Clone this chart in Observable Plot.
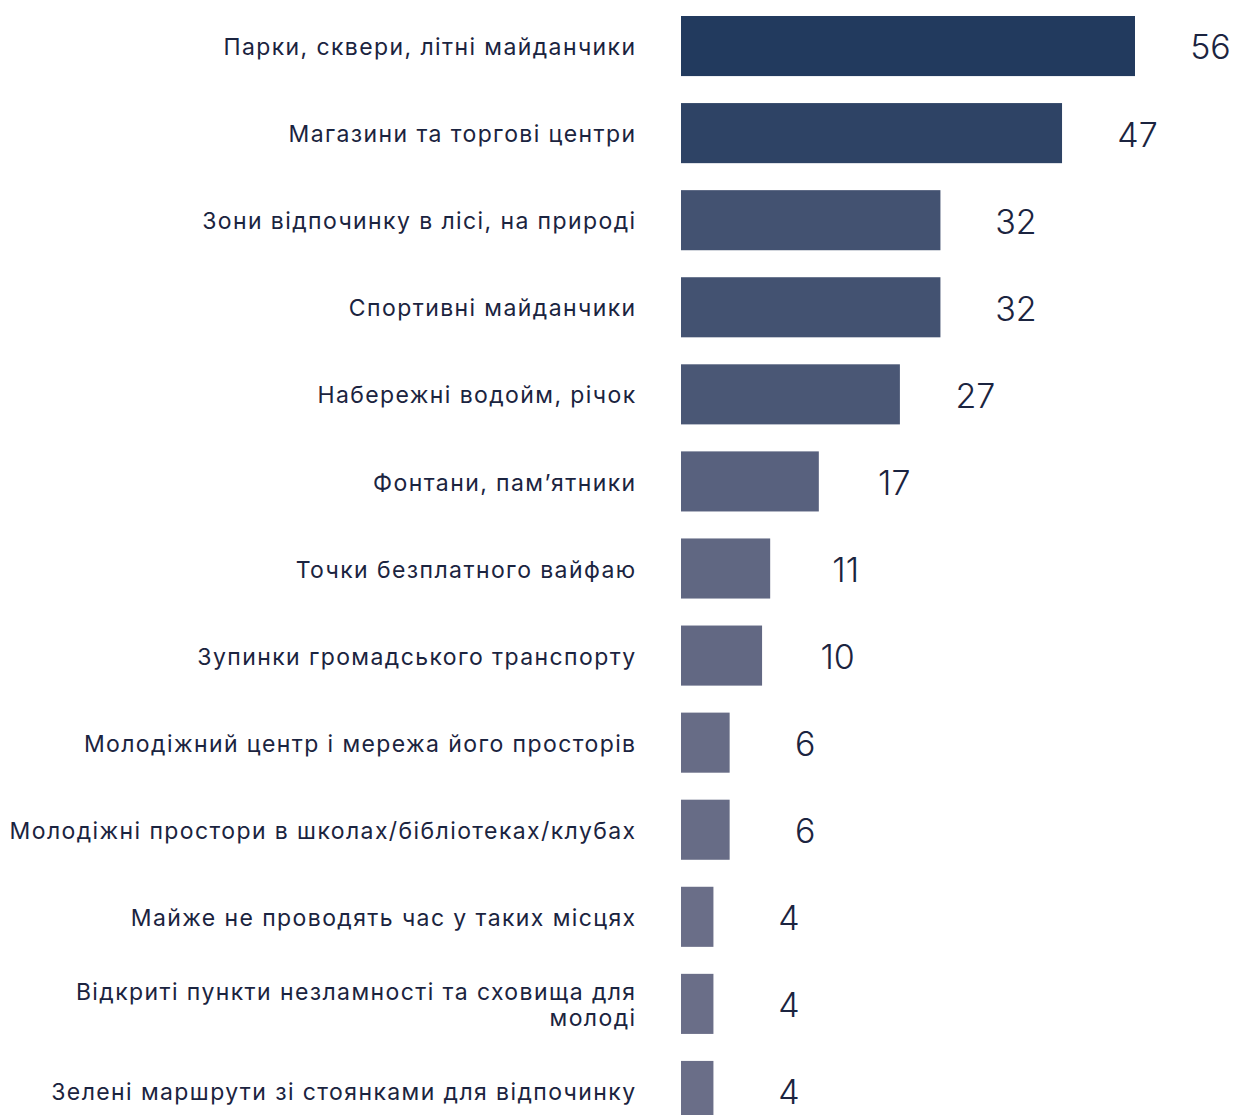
<!DOCTYPE html>
<html>
<head>
<meta charset="utf-8">
<script src="https://cdn.jsdelivr.net/npm/d3@7"></script>
<script src="https://cdn.jsdelivr.net/npm/@observablehq/plot@0.6"></script>
<style>
  html, body { margin: 0; padding: 0; background: #fff; }
  #chart svg { display: block; }
  .cat-labels text { letter-spacing: 1.4px; }
</style>
</head>
<body>
<div id="chart"></div>
<script>
const categories = [
  "Парки, сквери, літні майданчики",
  "Магазини та торгові центри",
  "Зони відпочинку в лісі, на природі",
  "Спортивні майданчики",
  "Набережні водойм, річок",
  "Фонтани, пам’ятники",
  "Точки безплатного вайфаю",
  "Зупинки громадського транспорту",
  "Молодіжний центр і мережа його просторів",
  "Молодіжні простори в школах/бібліотеках/клубах",
  "Майже не проводять час у таких місцях",
  "Відкриті пункти незламності та сховища для\nмолоді",
  "Зелені маршрути зі стоянками для відпочинку"
];
const values = [56, 47, 32, 32, 27, 17, 11, 10, 6, 6, 4, 4, 4];

const data = categories.map((c, i) => ({category: c, value: values[i]}));

const textColor = "#1b2440";
const font = "Inter, 'Noto Sans', sans-serif";

const chart = Plot.plot({
  width: 1233,
  height: 1115,
  marginLeft: 0,
  marginRight: 0,
  marginTop: 0,
  marginBottom: 0,
  style: {fontFamily: font, background: "#fff", overflow: "visible"},
  x: {domain: [0, 56], range: [681, 1135], axis: null},
  y: {domain: categories, range: [16, 1121], paddingInner: 0.31, paddingOuter: 0, round: false, axis: null},
  color: {type: "linear", domain: [4, 56], range: ["#6a6e88", "#223a5e"]},
  marks: [
    Plot.barX(data, {x: "value", y: "category", fill: "value"}),
    Plot.text(data, {
      x: () => 0, y: "category", text: "category",
      textAnchor: "end", dx: -45, fontSize: 23, fill: textColor,
      lineHeight: 1.17, className: "cat-labels"
    }),
    Plot.text(data, {
      x: "value", y: "category", text: d => String(d.value),
      textAnchor: "middle", dx: 75, dy: 2, fontSize: 34, fill: textColor, fontWeight: 300
    })
  ]
});
document.getElementById("chart").appendChild(chart);
</script>
</body>
</html>
